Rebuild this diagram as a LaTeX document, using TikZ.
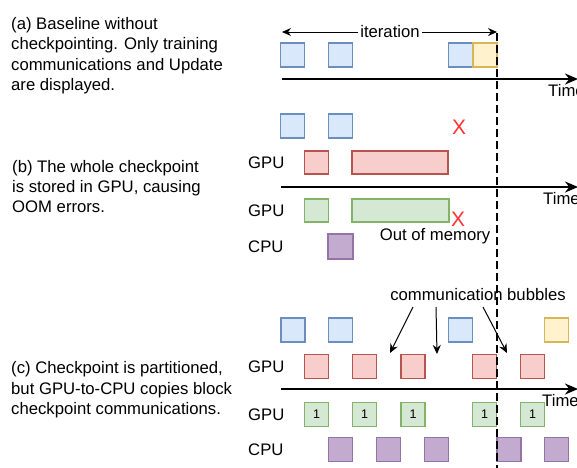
\documentclass[tikz,border=0pt]{standalone}
\usepackage{fontspec}
\setmainfont{Liberation Sans}
\usetikzlibrary{arrows.meta}
\definecolor{bluef}{HTML}{DAE8FC}\definecolor{blued}{HTML}{6C8EBF}
\definecolor{yelf}{HTML}{FFF2CC}\definecolor{yeld}{HTML}{D6B656}
\definecolor{redf}{HTML}{F8CECC}\definecolor{redd}{HTML}{B85450}
\definecolor{grnf}{HTML}{D5E8D4}\definecolor{grnd}{HTML}{82B366}
\definecolor{purf}{HTML}{C3ABD0}\definecolor{purd}{HTML}{9673A6}
\definecolor{xred}{HTML}{FF3333}
\tikzset{
  sq/.style={draw, line width=1.3pt, minimum width=24pt, minimum height=24pt, inner sep=0pt},
  bsq/.style={sq, fill=bluef, draw=blued},
  ysq/.style={sq, fill=yelf, draw=yeld},
  rsq/.style={sq, fill=redf, draw=redd},
  gsq/.style={sq, fill=grnf, draw=grnd, font=\fontsize{12.5}{14}\selectfont},
  psq/.style={sq, fill=purf, draw=purd},
  txt/.style={font=\fontsize{16.7}{20.4}\selectfont, inner sep=0pt},
  desc/.style={txt, align=left, anchor=west},
  lbl/.style={txt, anchor=west},
  axis/.style={line width=2.6pt, -{Stealth[length=13pt,width=11pt]}},
  thin/.style={line width=1pt, -{Stealth[length=9pt,width=8pt]}},
  xmark/.style={inner sep=0pt, text=xred, font=\fontsize{21}{22}\selectfont},
}
\begin{document}
\begin{tikzpicture}[x=1pt,y=-1pt]
\useasboundingbox (0,0) rectangle (577,467);
% descriptions
\node[desc] (da) at (11,55.5) {(a) Baseline without\\checkpointing. Only training\\communications and Update\\are displayed.};
\node[desc] (db) at (12,186.5) {(b) The whole checkpoint\\is stored in GPU, causing\\OOM errors.};
\node[desc] (dc) at (11,390) {(c) Checkpoint is partitioned,\\but GPU-to-CPU copies block\\checkpoint communications.};
% iteration
\coordinate (itL) at (282,32);
\coordinate (itR) at (497,32);
\draw[line width=1pt, {Stealth[length=9pt,width=8pt]}-{Stealth[length=9pt,width=8pt]}] (itL) -- (itR);
\node[txt, fill=white, inner xsep=2pt, inner ysep=1pt] (it) at (390,32) {iteration};
% (a)
\node[bsq] (a1) at (292.5,55) {};
\node[bsq] (a2) at (340.5,55) {};
\node[bsq] (a3) at (460.5,55) {};
\node[ysq] (a4) at (485,55) {};
\coordinate (axA0) at (282,79); \coordinate (axA1) at (578,79);
\draw[axis] (axA0) -- (axA1);
\node[lbl] (tA) at (548,91) {Time};
% (b)
\node[bsq] (b1) at (292.5,126) {};
\node[bsq] (b2) at (340.5,126) {};
\node[xmark] (bx1) at (459,127) {X};
\node[lbl] (bg1) at (248,163) {GPU};
\node[rsq, minimum height=23pt] (br1) at (316.5,162.5) {};
\node[rsq, minimum width=96pt, minimum height=23pt] (br2) at (400,162.5) {};
\coordinate (axB0) at (281,187); \coordinate (axB1) at (578,187);
\draw[axis] (axB0) -- (axB1);
\node[lbl] (tB) at (543,199) {Time};
\node[lbl] (bg2) at (248,210.5) {GPU};
\node[gsq, minimum height=23pt] (bgr1) at (316.5,210.5) {};
\node[gsq, minimum width=97pt, minimum height=23pt] (bgr2) at (400.5,210.5) {};
\node[xmark] (bx2) at (458,219) {X};
\node[txt] (oom) at (435,236) {Out of memory};
\node[lbl] (bc) at (248,247) {CPU};
\node[psq, minimum width=25pt, minimum height=25pt] (bp1) at (340.5,246.5) {};
% (c)
\node[txt] (cb) at (478,295) {communication bubbles};
\node[bsq] (c1) at (293,330) {};
\node[bsq] (c2) at (340.5,330) {};
\node[bsq] (c3) at (460.5,330) {};
\node[ysq] (c4) at (556.5,330) {};
\node[lbl] (cg1) at (248,367) {GPU};
\node[rsq] (cr1) at (316.5,366.5) {};
\node[rsq] (cr2) at (364.5,366.5) {};
\node[rsq] (cr3) at (413,366.5) {};
\node[rsq] (cr4) at (484.5,366.5) {};
\node[rsq] (cr5) at (532.5,366.5) {};
\coordinate (b1s) at (413,307); \coordinate (b1e) at (390,353);
\coordinate (b2s) at (436,307); \coordinate (b2e) at (437,354);
\coordinate (b3s) at (483,307); \coordinate (b3e) at (507,353);
\draw[thin] (b1s) -- (b1e);
\draw[thin] (b2s) -- (b2e);
\draw[thin] (b3s) -- (b3e);
\coordinate (axC0) at (281,389); \coordinate (axC1) at (578,389);
\draw[axis] (axC0) -- (axC1);
\node[lbl] (tC) at (542,401) {Time};
\node[lbl] (cg2) at (248,415) {GPU};
\node[gsq] (cgr1) at (316.5,414.5) {1};
\node[gsq] (cgr2) at (364.5,414.5) {1};
\node[gsq] (cgr3) at (413,414.5) {1};
\node[gsq] (cgr4) at (484.5,414.5) {1};
\node[gsq] (cgr5) at (532.5,414.5) {1};
\node[lbl] (cc) at (248,450) {CPU};
\node[psq] (cp1) at (340.5,449.5) {};
\node[psq] (cp2) at (388.5,449.5) {};
\node[psq] (cp3) at (436.5,449.5) {};
\node[psq] (cp4) at (509,449.5) {};
\node[psq] (cp5) at (556.5,449.5) {};
% iteration boundary
\coordinate (dT) at (497,33); \coordinate (dB) at (497,470);
\draw[line width=2.6pt, dash pattern=on 8pt off 4pt] (dT) -- (dB);
\end{tikzpicture}
\end{document}
